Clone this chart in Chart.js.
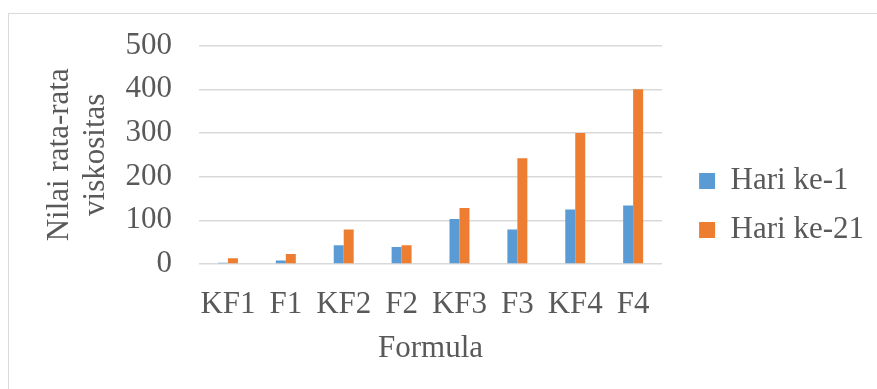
<!DOCTYPE html>
<html>
<head>
<meta charset="utf-8">
<script src="https://cdn.jsdelivr.net/npm/chart.js@4"></script>
<style>
  html, body { margin: 0; padding: 0; background: #fff; }
  body { width: 877px; height: 389px; position: relative; overflow: hidden; }
  #frame {
    position: absolute; left: 8px; top: 13px; width: 900px; height: 400px;
    border-left: 1.5px solid #D9D9D9; border-top: 1.5px solid #D9D9D9;
  }
  #wrap { position: absolute; left: 0; top: 0; width: 877px; height: 389px; }
</style>
</head>
<body>
<div id="frame"></div>
<div id="wrap"><canvas id="theChart"></canvas></div>
<script>
const formulaLabels = ['KF1', 'F1', 'KF2', 'F2', 'KF3', 'F3', 'KF4', 'F4'];
const hari1 = [3, 8, 43, 39, 103, 79, 125, 134];
const hari21 = [13, 23, 79, 43, 128, 242, 300, 400];
const yTicks = [0, 100, 200, 300, 400, 500];

const serif = '"Liberation Serif", "Times New Roman", serif';
const textColor = '#595959';

const data1 = {
  labels: formulaLabels,
  datasets: [
    {
      label: 'Hari ke-1',
      data: hari1,
      backgroundColor: '#5B9BD5',
      borderWidth: 0
    },
    {
      label: 'Hari ke-21',
      data: hari21,
      backgroundColor: '#ED7D31',
      borderWidth: 0
    }
  ]
};

const cfg1 = {
  type: 'bar',
  data: data1,
  options: {
    responsive: true,
    maintainAspectRatio: false,
    animation: false,
    datasets: {
      bar: { categoryPercentage: 0.345, barPercentage: 1 }
    },
    layout: { padding: { top: 44, bottom: 22, left: 10, right: 3 } },
    scales: {
      x: {
        grid: { display: false },
        border: { display: false },
        ticks: {
          color: textColor,
          font: { family: serif, size: 31 },
          padding: 14,
          autoSkip: false,
          maxRotation: 0
        },
        title: {
          display: true,
          text: 'Formula',
          color: textColor,
          font: { family: serif, size: 31 },
          padding: { top: 0, bottom: 0 }
        },
        afterFit: (s) => { s.height = 103; }
      },
      y: {
        min: 0,
        max: 500,
        afterBuildTicks: (s) => { s.ticks = yTicks.map(v => ({ value: v })); },
        grid: { color: '#D9D9D9', lineWidth: 1.5, drawTicks: false },
        border: { display: false },
        ticks: {
          color: textColor,
          font: { family: serif, size: 31 },
          padding: 27
        },
        title: {
          display: true,
          text: ['Nilai rata-rata', 'viskositas'],
          color: textColor,
          font: { family: serif, size: 31, lineHeight: 1.15 },
          padding: { top: 32, bottom: 11 }
        },
        afterFit: (s) => { s.width = 189; }
      },
      gap: {
        // empty spacer between plot and legend
        type: 'linear',
        position: 'right',
        grid: { display: false },
        border: { display: false },
        ticks: { display: false },
        afterFit: (s) => { s.width = 19; }
      }
    },
    plugins: {
      legend: {
        position: 'right',
        maxWidth: 220,
        labels: {
          color: textColor,
          font: { family: serif, size: 31 },
          boxWidth: 16,
          boxHeight: 16,
          padding: 18
        }
      },
      tooltip: { enabled: false },
      title: { display: false }
    }
  }
};

const myChart = new Chart(document.getElementById('theChart').getContext('2d'), cfg1);
</script>
</body>
</html>
